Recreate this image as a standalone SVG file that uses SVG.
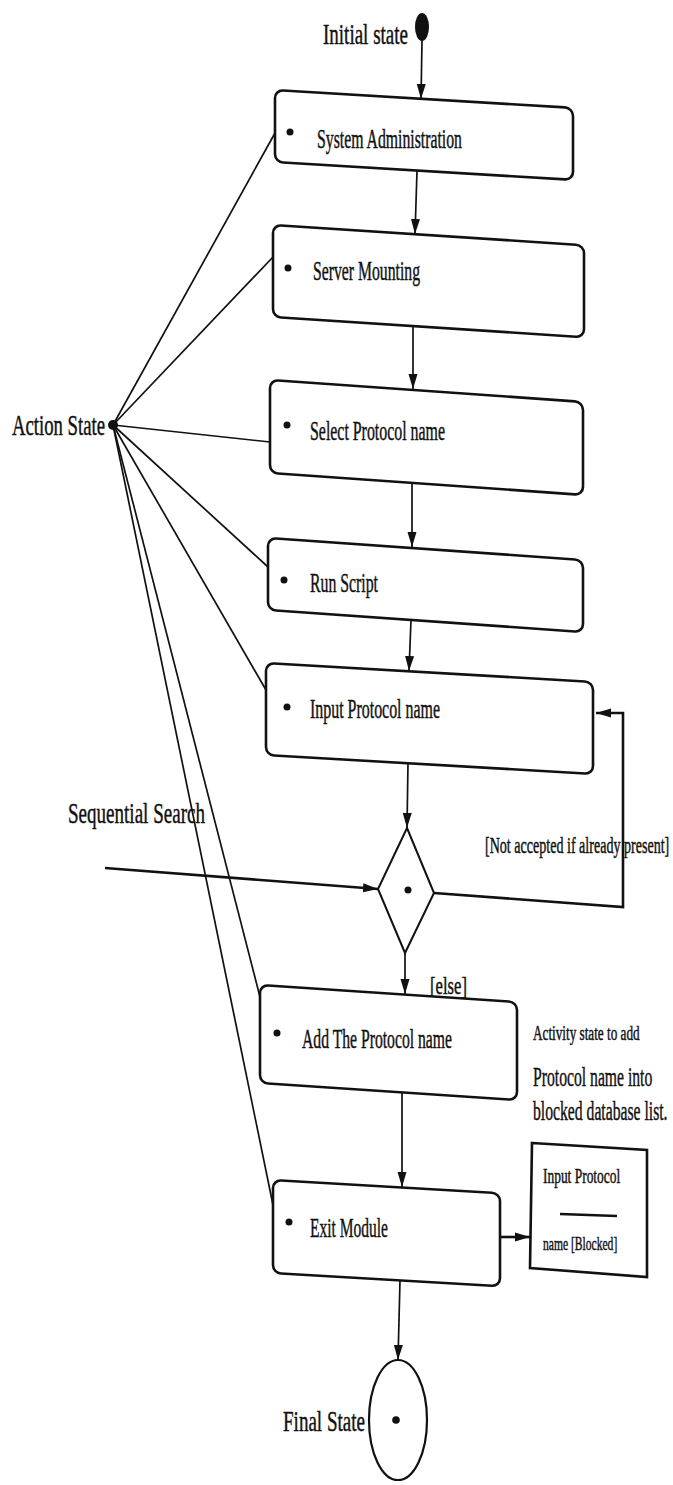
<svg xmlns="http://www.w3.org/2000/svg" width="673" height="1485" viewBox="0 0 673 1485">
<style>
.t{font-family:"Liberation Serif","Times New Roman",serif;fill:#111;stroke:#111;stroke-width:0.45;}
.box{fill:#fff;stroke:#111;stroke-width:2.6;}
.c{fill:none;stroke:#111;stroke-width:1.7;}
.ck{fill:none;stroke:#111;stroke-width:2.6;}
.dot{fill:#111;}
</style>
<defs>
<marker id="ah" markerUnits="userSpaceOnUse" markerWidth="16" markerHeight="12" refX="15" refY="6" orient="auto">
<path d="M0,1.5 L15,6 L0,10.5 z" fill="#111"/>
</marker>
</defs>
<rect width="673" height="1485" fill="#fff"/>

<g id="connectors">
<path class="c" d="M422,41 L421,99" marker-end="url(#ah)"/>
<path class="c" d="M417,171 L415,234" marker-end="url(#ah)"/>
<path class="c" d="M413,326 L413,389" marker-end="url(#ah)"/>
<path class="c" d="M412,483 L412,547" marker-end="url(#ah)"/>
<path class="c" d="M411,620 L409,671" marker-end="url(#ah)"/>
<path class="c" d="M408,763 L407,828" marker-end="url(#ah)"/>
<path class="c" d="M405,953 L405,994" marker-end="url(#ah)"/>
<path class="c" d="M402,1092 L402,1187" marker-end="url(#ah)"/>
<path class="c" d="M400,1280 L398,1360" marker-end="url(#ah)"/>
<path class="ck" d="M105,868 L378,889" marker-end="url(#ah)"/>
<path class="ck" d="M434,893 L623,907 L623,713 L596,713" marker-end="url(#ah)"/>
<path class="ck" d="M500,1237 L530,1237" marker-end="url(#ah)"/>
<path class="c" d="M113,425 L275,133"/>
<path class="c" d="M113,425 L273,257"/>
<path class="c" d="M113,425 L270,442"/>
<path class="c" d="M113,425 L268,567"/>
<path class="c" d="M113,425 L266,690"/>
<path class="c" d="M113,425 L260,997"/>
<path class="c" d="M113,425 L273,1205"/>
</g>

<g id="initial">
<ellipse class="dot" cx="422" cy="27" rx="7" ry="14"/>
<text class="t" x="323" y="44" font-size="30" textLength="85" lengthAdjust="spacingAndGlyphs">Initial state</text>
</g>

<g id="action-state">
<circle class="dot" cx="113" cy="425" r="5"/>
<text class="t" x="12" y="435" font-size="30" textLength="93" lengthAdjust="spacingAndGlyphs">Action State</text>
</g>

<g id="n1">
<rect class="box" transform="translate(275,90) skewY(3.43)" width="298" height="72" rx="8"/>
<circle class="dot" cx="290" cy="132" r="3.5"/>
<text class="t" x="317" y="148" font-size="27" textLength="145" lengthAdjust="spacingAndGlyphs">System Administration</text>
</g>

<g id="n2">
<rect class="box" transform="translate(273,225) skewY(3.72)" width="311" height="92" rx="8"/>
<circle class="dot" cx="288" cy="268" r="3.5"/>
<text class="t" x="313" y="280" font-size="27" textLength="107" lengthAdjust="spacingAndGlyphs">Server Mounting</text>
</g>

<g id="n3">
<rect class="box" transform="translate(270,380) skewY(4)" width="313" height="93" rx="8"/>
<circle class="dot" cx="287" cy="425" r="3.5"/>
<text class="t" x="310" y="440" font-size="27" textLength="135" lengthAdjust="spacingAndGlyphs">Select Protocol name</text>
</g>

<g id="n4">
<rect class="box" transform="translate(268,538) skewY(4)" width="315" height="72" rx="8"/>
<circle class="dot" cx="284" cy="580" r="3.5"/>
<text class="t" x="310" y="592" font-size="27" textLength="68" lengthAdjust="spacingAndGlyphs">Run Script</text>
</g>

<g id="n5">
<rect class="box" transform="translate(266,663) skewY(3.32)" width="327" height="92" rx="8"/>
<circle class="dot" cx="287" cy="707" r="3.5"/>
<text class="t" x="310" y="718" font-size="27" textLength="130" lengthAdjust="spacingAndGlyphs">Input Protocol name</text>
</g>

<g id="decision">
<polygon points="407,828 434,893 405,953 378,889" fill="#fff" stroke="#111" stroke-width="2"/>
<circle class="dot" cx="408" cy="890" r="3.5"/>
</g>

<g id="labels">
<text class="t" x="68" y="823" font-size="30" textLength="137" lengthAdjust="spacingAndGlyphs">Sequential Search</text>
<text class="t" transform="translate(485,853) scale(0.612,1)" x="0" y="0" font-size="23">[Not accepted if already present]</text>
<text class="t" x="430" y="994" font-size="26" textLength="37" lengthAdjust="spacingAndGlyphs">[else]</text>
</g>

<g id="n6">
<rect class="box" transform="translate(260,985) skewY(3.78)" width="257" height="98" rx="8"/>
<circle class="dot" cx="277" cy="1033" r="3.5"/>
<text class="t" x="302" y="1048" font-size="27" textLength="150" lengthAdjust="spacingAndGlyphs">Add The Protocol name</text>
</g>

<g id="note">
<text class="t" transform="translate(533,1040) scale(0.66,1)" x="0" y="0" font-size="20">Activity state to add</text>
<text class="t" transform="translate(533,1086) scale(0.56,1)" x="0" y="0" font-size="28">Protocol name into</text>
<text class="t" transform="translate(533,1120) scale(0.56,1)" x="0" y="0" font-size="28">blocked database list.</text>
</g>

<g id="n7">
<rect class="box" transform="translate(273,1180) skewY(3.32)" width="227" height="93" rx="8"/>
<circle class="dot" cx="289" cy="1222" r="3.5"/>
<text class="t" x="310" y="1237" font-size="27" textLength="78" lengthAdjust="spacingAndGlyphs">Exit Module</text>
</g>

<g id="object">
<polygon points="532,1143 647,1150 647,1277 530,1268" fill="#fff" stroke="#111" stroke-width="2.6"/>
<text class="t" transform="translate(543,1183) scale(0.64,1)" x="0" y="0" font-size="21">Input  Protocol</text>
<path d="M560,1214 L617,1216" stroke="#111" stroke-width="2.6"/>
<text class="t" transform="translate(543,1250) scale(0.61,1)" x="0" y="0" font-size="19">name [Blocked]</text>
</g>

<g id="final">
<ellipse cx="398" cy="1420" rx="29" ry="60" fill="#fff" stroke="#111" stroke-width="2.2"/>
<circle class="dot" cx="396" cy="1420" r="3.8"/>
<text class="t" x="283" y="1431" font-size="30" textLength="82" lengthAdjust="spacingAndGlyphs">Final State</text>
</g>
</svg>
